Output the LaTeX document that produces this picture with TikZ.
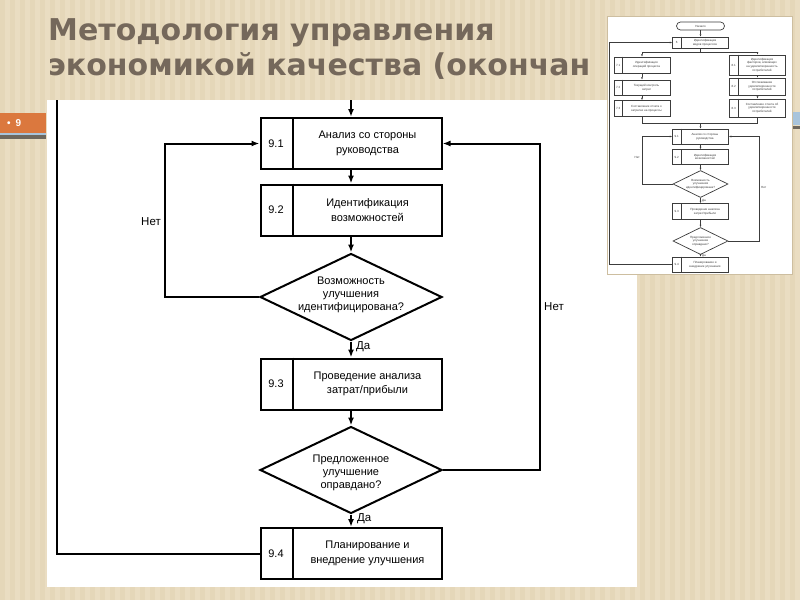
\documentclass[tikz,border=0pt]{standalone}
\usepackage{fontspec}
\setmainfont{Liberation Sans}
\newfontfamily\titlefont{DejaVu Sans}
\usetikzlibrary{arrows.meta,shapes.geometric}

\begin{document}
\begin{tikzpicture}[x=1pt,y=-1pt,
    flow/.style={line width=2pt,-{Latex[length=8pt,width=6pt]}},
    link/.style={line width=2pt},
    procbox/.style={draw,line width=2pt,minimum width=181pt,minimum height=51pt,inner sep=0pt},
    decbox/.style={draw,diamond,line width=2pt,minimum width=182pt,minimum height=87pt,inner sep=0pt},
    boxtext/.style={font=\fontsize{11}{14.5}\selectfont,align=center,inner sep=0pt},
    dectext/.style={font=\fontsize{11}{13}\selectfont,align=center,inner sep=0pt},
    labeltext/.style={font=\fontsize{11.5}{13}\selectfont,inner sep=0pt},
    titletext/.style={font=\titlefont\bfseries\fontsize{30}{35}\selectfont,text=titleColour,inner sep=0pt},
    numtag/.style={font=\bfseries\fontsize{10}{12}\selectfont,text=white,inner sep=0pt},
    tflow/.style={line width=0.7pt,draw=thumbInk,-{Latex[length=2.4pt,width=2pt]}},
    tlink/.style={line width=0.7pt,draw=thumbInk},
    tprocbox/.style={draw=thumbInk,line width=0.7pt,minimum width=56pt,inner sep=0pt},
    tdecbox/.style={draw=thumbInk,diamond,line width=0.7pt,minimum width=55pt,minimum height=27pt,inner sep=0pt},
    ttext/.style={font=\fontsize{3}{3.6}\selectfont,text=thumbInk,align=center,inner sep=0pt}]
    \definecolor{slideColour}{RGB}{234,221,194}
    \definecolor{stripeColour}{RGB}{229,215,185}
    \definecolor{titleColour}{RGB}{117,104,91}
    \definecolor{numberColour}{RGB}{219,120,62}
    \definecolor{bandBlue}{RGB}{168,196,220}
    \definecolor{bandGrey}{RGB}{110,104,94}
    \definecolor{thumbBorder}{RGB}{205,190,160}
    \definecolor{thumbInk}{RGB}{60,60,60}

    % Draw slide background
    \useasboundingbox (0,0) rectangle (800,600);
    \fill[slideColour] (0,0) rectangle (800,600);
    \foreach \x in {0,10,...,790}
        \fill[stripeColour] (\x,0) rectangle ++(5,600);

    % Title
    \node[titletext,anchor=base west] (TitleA) at (48,40) {Методология управления};
    \node[titletext,anchor=base west] (TitleB) at (48,75) {экономикой качества (окончан};

    % Slide number and bands
    \fill[numberColour] (0,113) rectangle (46,133);
    \fill[bandBlue] (0,133) rectangle (46,134.5);
    \fill[bandGrey] (0,135) rectangle (46,138.5);
    \node[numtag,anchor=west] (SlideNo) at (7,123) {•\hspace{5pt}9};
    \fill[bandBlue] (600,112) rectangle (800,125);
    \fill[bandGrey] (600,126) rectangle (800,129);

    % Content area
    \fill[white] (47,100) rectangle (637,587);

    % Process boxes
    \foreach \name/\num/\yc/\txt in {
        91/9.1/143.5/{Анализ со стороны\\руководства},
        92/9.2/210/{Идентификация\\возможностей},
        93/9.3/384/{Проведение анализа\\затрат/прибыли},
        94/9.4/553.5/{Планирование и\\внедрение улучшения}}
    {
        \node[procbox] (B\name) at (351,\yc) {};
        \draw[link] ([xshift=33pt]B\name.north west) -- ([xshift=33pt]B\name.south west);
        \node[boxtext] (N\name) at ([xshift=16.5pt]B\name.west) {\num};
        \node[boxtext] (T\name) at ([xshift=16.5pt]B\name.center) {\txt};
    }

    % Decisions
    \node[decbox] (D1) at (351,297) {};
    \node[dectext] (Q1) at (351,295) {Возможность\\улучшения\\идентифицирована?};
    \node[decbox] (D2) at (351,470) {};
    \node[dectext] (Q2) at (351,473) {Предложенное\\улучшение\\оправдано?};

    % Connectors
    \coordinate (Entry) at (351,100);
    \coordinate (LoopL) at (165,0);
    \coordinate (LoopR) at (540,0);
    \coordinate (LoopO) at (57,100);
    \draw[flow] (Entry) -- (B91.north);
    \draw[flow] (B91.south) -- (B92.north);
    \draw[flow] (B92.south) -- (D1.north);
    \draw[flow] (D1.south) -- (B93.north);
    \draw[flow] (B93.south) -- (D2.north);
    \draw[flow] (D2.south) -- (B94.north);
    \draw[flow] (D1.west) -- (D1.west -| LoopL) |- (B91.west);
    \draw[flow] (D2.east) -- (D2.east -| LoopR) |- (B91.east);
    \draw[link] (B94.west) -| (LoopO);

    % Branch labels
    \node[labeltext,anchor=east] (No1) at (161,222) {Нет};
    \node[labeltext] (No2) at (554,307) {Нет};
    \node[labeltext,anchor=west] (Yes1) at (356,347) {Да};
    \node[labeltext,anchor=west] (Yes2) at (357,519) {Да};

    % Thumbnail of the whole chart
    \fill[white,draw=thumbBorder,line width=0.8pt] (607,16) rectangle (792,274);
    \node[draw=thumbInk,line width=0.7pt,rounded corners=4pt,minimum width=48pt,minimum height=8pt,inner sep=0pt] (TStart) at (700.5,26) {};
    \node[ttext] (TStartT) at (TStart) {Начало};
    \foreach \name/\num/\xc/\yc/\h/\txt in {
        6/6/700.5/42.5/11/{Идентификация\\видов процессов},
        71/7.1/642/65/16/{Идентификация\\операций процесса},
        72/7.2/642/87.5/15/{Текущий контроль\\затрат},
        73/7.3/642/108.5/16/{Составление отчета о\\затратах на процессы},
        81/8.1/757.5/65/20/{Идентификация\\факторов, влияющих\\на удовлетворенность\\потребителей},
        82/8.2/757.5/86.5/17/{Отслеживание\\удовлетворенности\\потребителей},
        83/8.3/757.5/108/18/{Составление отчета об\\удовлетворенности\\потребителей},
        91/9.1/700.5/136.5/15/{Анализ со стороны\\руководства},
        92/9.2/700.5/157/15/{Идентификация\\возможностей},
        93/9.3/700.5/211.5/16/{Проведение анализа\\затрат/прибыли},
        94/9.4/700.5/264.5/15/{Планирование и\\внедрение улучшения}}
    {
        \node[tprocbox,minimum height=\h pt] (TB\name) at (\xc,\yc) {};
        \draw[tlink] ([xshift=9pt]TB\name.north west) -- ([xshift=9pt]TB\name.south west);
        \node[ttext] (TN\name) at ([xshift=4.5pt]TB\name.west) {\num};
        \node[ttext] (TT\name) at ([xshift=4.5pt]TB\name.center) {\txt};
    }
    \node[tdecbox] (TD1) at (700.5,184) {};
    \node[ttext] (TQ1) at (TD1) {Возможность\\улучшения\\идентифицирована?};
    \node[tdecbox] (TD2) at (700.5,241) {};
    \node[ttext] (TQ2) at (TD2) {Предложенное\\улучшение\\оправдано?};

    % Thumbnail connectors
    \coordinate (TSplit) at (700.5,52);
    \coordinate (TMerge) at (700.5,123);
    \coordinate (TLoopL) at (642,0);
    \coordinate (TLoopR) at (759,0);
    \coordinate (TLoopO) at (609.5,0);
    \draw[tflow] (TStart.south) -- (TB6.north);
    \draw[tlink] (TB6.south) -- (TSplit);
    \draw[tflow] (TSplit) -| (TB71.north);
    \draw[tflow] (TSplit) -| (TB81.north);
    \draw[tflow] (TB71.south) -- (TB72.north);
    \draw[tflow] (TB72.south) -- (TB73.north);
    \draw[tflow] (TB81.south) -- (TB82.north);
    \draw[tflow] (TB82.south) -- (TB83.north);
    \draw[tlink] (TB73.south) |- (TMerge);
    \draw[tlink] (TB83.south) |- (TMerge);
    \draw[tflow] (TMerge) -- (TB91.north);
    \draw[tflow] (TB91.south) -- (TB92.north);
    \draw[tflow] (TB92.south) -- (TD1.north);
    \draw[tflow] (TD1.south) -- (TB93.north);
    \draw[tflow] (TB93.south) -- (TD2.north);
    \draw[tflow] (TD2.south) -- (TB94.north);
    \draw[tflow] (TD1.west) -- (TD1.west -| TLoopL) |- (TB91.west);
    \draw[tflow] (TD2.east) -- (TD2.east -| TLoopR) |- (TB91.east);
    \draw[tflow] (TB94.west) -- (TB94.west -| TLoopO) |- (TB6.west);
    \node[ttext,anchor=east] (TNo1) at (640,157) {Нет};
    \node[ttext,anchor=west] (TNo2) at (761,187) {Нет};
    \node[ttext,anchor=west] (TYes1) at (702,201) {Да};
    \node[ttext,anchor=west] (TYes2) at (702,256) {Да};

\end{tikzpicture}
\end{document}
